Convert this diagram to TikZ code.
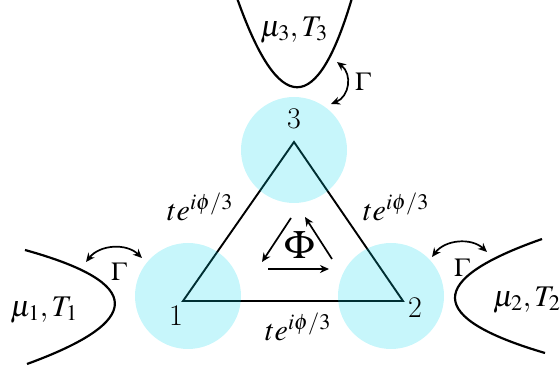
\documentclass[tikz,border=0pt]{standalone}
\usepackage{mathptmx}
\usepackage{tikz}
\usepackage{xcolor}
\usetikzlibrary{arrows.meta}
\usetikzlibrary{positioning}

\definecolor{dotcyan}{RGB}{0,215,235}

\tikzset{
    lbl/.style={font=\fontsize{30}{34}\selectfont, inner sep=0pt},
    bath/.style={line width=2.2pt},
    hop/.style={line width=1.9pt},
    dot/.style={fill=dotcyan, fill opacity=0.22},
    tip/.style={line width=1.7pt, {Stealth[length=9pt,width=8pt]}-{Stealth[length=9pt,width=8pt]}},
    flux/.style={line width=1.7pt, -{Stealth[length=9pt,width=8pt]}},
}

\begin{document}
\begin{tikzpicture}[x=1pt, y=1pt]
    \useasboundingbox (0,0) rectangle (560,372);
    % triangle of dots
    \coordinate (v1) at (183,71);
    \coordinate [right=220pt of v1] (v2);
    \coordinate [above right=159pt and 111pt of v1] (v3);
    \draw [hop, line join=miter] (v1) -- (v2) -- (v3) -- cycle;
    \fill [dot] (188,76) circle (53pt);  % dot 1
    \fill [dot] (391,76) circle (53pt);  % dot 2
    \fill [dot] (294,222) circle (53pt); % dot 3
    \node [lbl] (n1) at (176,56) {1};
    \node [lbl] (n2) at (415,64) {2};
    \node [lbl] (n3) at (294,253) {3};
    \node [lbl] (t12) at (298,45) {$te^{i\phi/3}$};
    \node [lbl] (t13) at (200,165) {$te^{i\phi/3}$};
    \node [lbl] (t23) at (396,165) {$te^{i\phi/3}$};
    % flux
    \node [lbl, font=\fontsize{40}{44}\selectfont] (phi) at (300,127) {$\Phi$};
    \coordinate (fa) at (291,154);
    \coordinate (fb) at (262,110);
    \coordinate (fc) at (332,113);
    \coordinate (fd) at (305,155);
    \coordinate (fe) at (268,103);
    \coordinate (ff) at (329,103);
    \draw [flux] (fa) -- (fb);
    \draw [flux] (fc) -- (fd);
    \draw [flux] (fe) -- (ff);
    % leads
    \draw [bath] (25,122) .. controls (144,89) and (145,51) .. (27,8);
    \draw [bath] (542,133) .. controls (425,92) and (426,54) .. (545,19);
    \draw [bath] (237,374) .. controls (279,255) and (317,255) .. (352,374);
    \node [lbl] (b1) at (44,62) {$\mu_1, T_1$};
    \node [lbl, anchor=west] (b2) at (493,72) {$\mu_2, T_2$};
    \node [lbl] (b3) at (294,342) {$\mu_3, T_3$};
    % couplings
    \coordinate (g1a) at (86,110);
    \coordinate (g1b) at (142,114);
    \coordinate (g2a) at (432,115);
    \coordinate (g2b) at (487,120);
    \coordinate (g3a) at (337,310);
    \coordinate (g3b) at (331,268);
    \draw [tip] (g1a) to[bend left=48] (g1b);
    \draw [tip] (g2a) to[bend left=48] (g2b);
    \draw [tip] (g3a) to[bend left=60, looseness=1.2] (g3b);
    \node [lbl, font=\fontsize{26}{30}\selectfont] (G1) at (119,100) {$\Gamma$};
    \node [lbl, font=\fontsize{26}{30}\selectfont] (G2) at (462,104) {$\Gamma$};
    \node [lbl, font=\fontsize{26}{30}\selectfont] (G3) at (363,290) {$\Gamma$};
\end{tikzpicture}
\end{document}
